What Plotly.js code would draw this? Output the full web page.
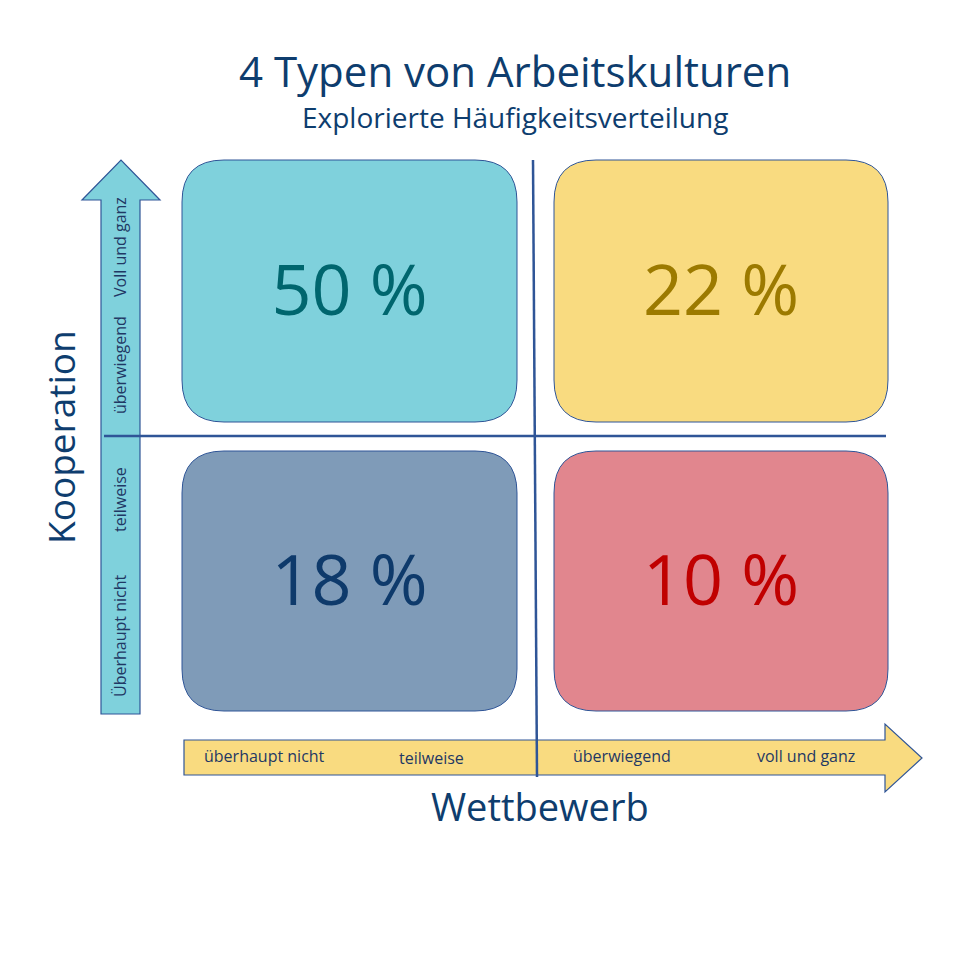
<!DOCTYPE html>
<html>
<head>
<meta charset="utf-8">
<script src="https://cdn.plot.ly/plotly-3.0.1.min.js"></script>
<style>
  html, body { margin: 0; padding: 0; background: #fff; }
  #chart { width: 960px; height: 960px; }
</style>
</head>
<body>
<div id="chart"></div>
<script>
/* ----------------------------------------------------------------
 * Daten
 * -------------------------------------------------------------- */

// Quadranten: Spalte = Wettbewerb (0 niedrig, 1 hoch), Zeile = Kooperation (1 hoch, 0 niedrig)
const quadranten = ["Kooperation hoch / Wettbewerb niedrig", "Kooperation hoch / Wettbewerb hoch",
                    "Kooperation niedrig / Wettbewerb niedrig", "Kooperation niedrig / Wettbewerb hoch"];
const anteile = [50, 22, 18, 10];
const spalte = [0, 1, 0, 1];
const zeile = [1, 1, 0, 0];

const fuellFarben = ["#7FD1DC", "#F9DB80", "#7F9BB8", "#E1868E"];
const textFarben = ["#00666E", "#9C7A00", "#0E3A6B", "#C00000"];

const stufenWettbewerb = ["überhaupt nicht", "teilweise", "überwiegend", "voll und ganz"];
const stufenKooperation = ["Überhaupt nicht", "teilweise", "überwiegend", "Voll und ganz"];

/* ----------------------------------------------------------------
 * Geometrie (Pixel, y nach unten)
 * -------------------------------------------------------------- */

const FONT = "'Open Sans', sans-serif";
const LINIE = "#2F5597";
const DUNKEL = "#1F3864";
const TITEL = "#0E3D6E";

const spaltenX = [[182, 517], [554, 888]];
const zeilenY = [[451, 711], [160, 422]];
const RADIUS = 42;

const posWettbewerb = [264, 431, 622, 806];
const posKooperation = [636, 500, 365, 247];

function rundesRechteck(x0, y0, x1, y1, r) {
    return "M" + (x0 + r) + "," + y0 +
        " L" + (x1 - r) + "," + y0 + " Q" + x1 + "," + y0 + " " + x1 + "," + (y0 + r) +
        " L" + x1 + "," + (y1 - r) + " Q" + x1 + "," + y1 + " " + (x1 - r) + "," + y1 +
        " L" + (x0 + r) + "," + y1 + " Q" + x0 + "," + y1 + " " + x0 + "," + (y1 - r) +
        " L" + x0 + "," + (y0 + r) + " Q" + x0 + "," + y0 + " " + (x0 + r) + "," + y0 + " Z";
}

function zeichne() {

    const shapes = [];

    // Pfeil Kooperation (nach oben)
    shapes.push({
        type: "path", layer: "below",
        path: "M101,714 L101,200 L82,200 L121,160 L160,200 L140,200 L140,714 Z",
        fillcolor: "#7FD1DC", line: { color: LINIE, width: 1.2 }
    });

    // Pfeil Wettbewerb (nach rechts)
    shapes.push({
        type: "path", layer: "below",
        path: "M184,740 L885,740 L885,724 L922,758 L885,792 L885,775 L184,775 Z",
        fillcolor: "#F9DB80", line: { color: LINIE, width: 1.2 }
    });

    // Quadranten-Kästen
    anteile.forEach((_, i) => {
        const [x0, x1] = spaltenX[spalte[i]];
        const [y0, y1] = zeilenY[zeile[i]];
        shapes.push({
            type: "path", layer: "below",
            path: rundesRechteck(x0, y0, x1, y1, RADIUS),
            fillcolor: fuellFarben[i], line: { color: LINIE, width: 1 }
        });
    });

    // Achsenkreuz
    shapes.push({ type: "line", x0: 533, y0: 160, x1: 537, y1: 777, line: { color: LINIE, width: 2.5 } });
    shapes.push({ type: "line", x0: 104, y0: 436, x1: 886, y1: 436, line: { color: LINIE, width: 2.5 } });

    // Prozentwerte
    const tracePct = {
        type: "scatter", mode: "text",
        x: anteile.map((_, i) => (spaltenX[spalte[i]][0] + spaltenX[spalte[i]][1]) / 2),
        y: anteile.map((_, i) => (zeilenY[zeile[i]][0] + zeilenY[zeile[i]][1]) / 2 + 6),
        text: anteile.map(v => v + " %"),
        textfont: { family: FONT, size: 70, color: textFarben },
        hovertext: quadranten, hoverinfo: "text", showlegend: false
    };

    const annotations = [
        { x: 515, y: 70, text: "4 Typen von Arbeitskulturen", font: { size: 42, color: TITEL, family: FONT } },
        { x: 515, y: 117, text: "Explorierte Häufigkeitsverteilung", font: { size: 28, color: TITEL, family: FONT } },
        { x: 540, y: 806, text: "Wettbewerb", font: { size: 38, color: TITEL, family: FONT } },
        { x: 60, y: 437, text: "Kooperation", textangle: -90, font: { size: 37, color: TITEL, family: FONT } }
    ];

    stufenWettbewerb.forEach((t, i) => {
        annotations.push({ x: posWettbewerb[i], y: i === 1 ? 758 : 756, text: t,
            font: { size: 16, color: DUNKEL, family: FONT } });
    });
    stufenKooperation.forEach((t, i) => {
        annotations.push({ x: 120, y: posKooperation[i], text: t, textangle: -90,
            font: { size: 16, color: DUNKEL, family: FONT } });
    });

    annotations.forEach(a => {
        a.xref = "x"; a.yref = "y"; a.showarrow = false;
        a.xanchor = "center"; a.yanchor = "middle";
    });

    const layout = {
        width: 960, height: 960,
        margin: { l: 0, r: 0, t: 0, b: 0 },
        paper_bgcolor: "#ffffff", plot_bgcolor: "#ffffff",
        xaxis: { range: [0, 960], visible: false, fixedrange: true },
        yaxis: { range: [960, 0], visible: false, fixedrange: true },
        shapes: shapes,
        annotations: annotations,
        showlegend: false
    };

    Plotly.newPlot("chart", [tracePct], layout, { displayModeBar: false, staticPlot: true });
}

document.addEventListener("DOMContentLoaded", zeichne);
</script>
</body>
</html>
